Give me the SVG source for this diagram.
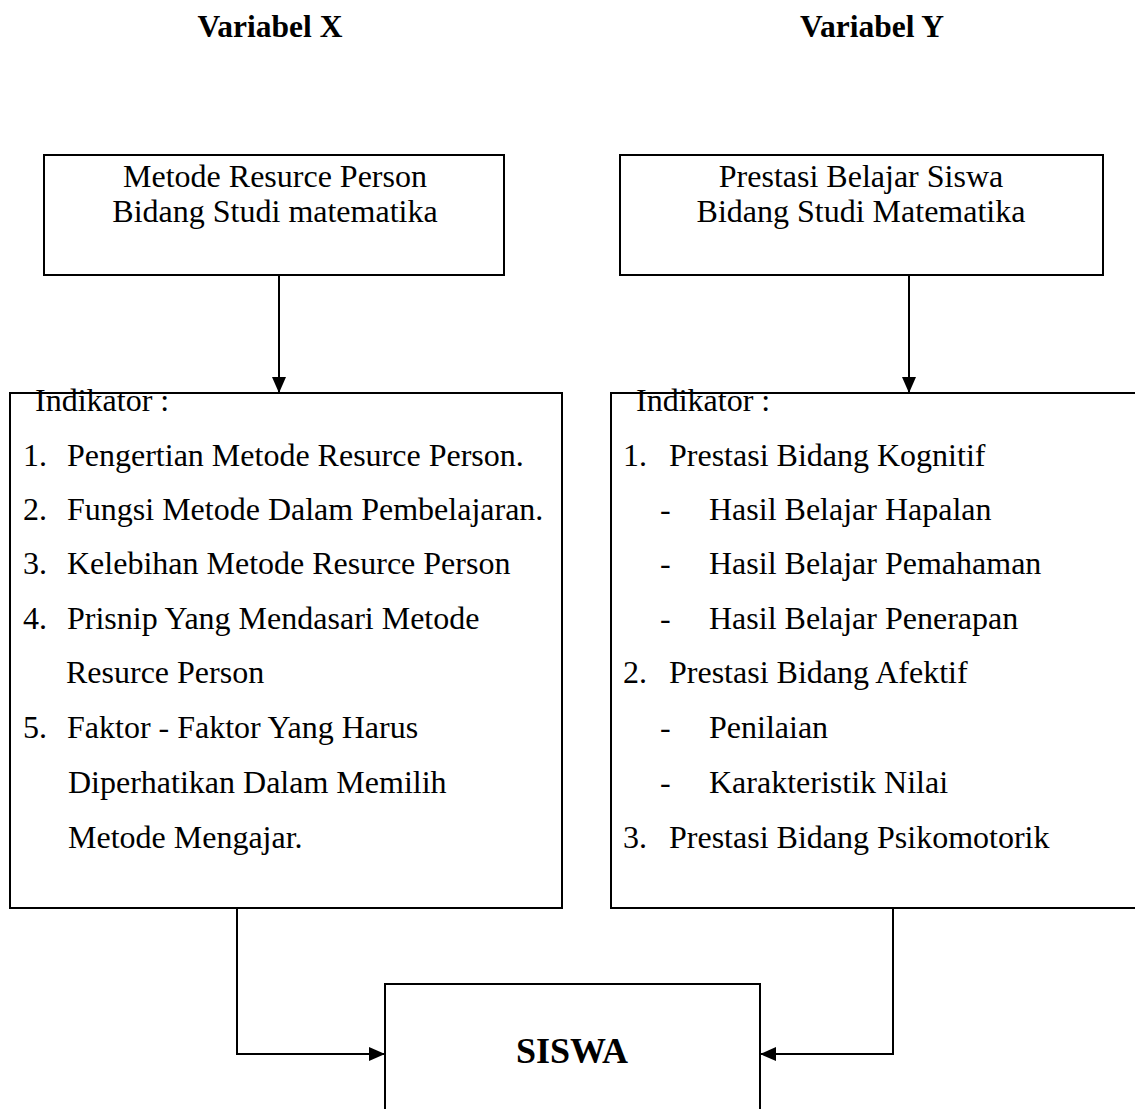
<svg xmlns="http://www.w3.org/2000/svg" width="1135" height="1109" viewBox="0 0 1135 1109">
<style>
  .box { fill: none; stroke: #000; stroke-width: 2; }
  .line { fill: none; stroke: #000; stroke-width: 2; }
  text { font-family: "Liberation Serif", "Times New Roman", serif; fill: #000; }
  .t { font-size: 32px; }
  .title { font-size: 31.5px; font-weight: bold; text-anchor: middle; }
  .big { font-size: 36px; font-weight: bold; text-anchor: middle; }
  .c { text-anchor: middle; }
</style>
<defs>
  <marker id="arr" viewBox="0 0 16 14" refX="16" refY="7" markerWidth="16" markerHeight="14" markerUnits="userSpaceOnUse" orient="auto">
    <path d="M0,0 L16,7 L0,14 Z" fill="#000"/>
  </marker>
</defs>
<rect width="1135" height="1109" fill="#fff"/>
<g id="title-x"><text class="title" x="270" y="37">Variabel X</text></g>
<g id="title-y"><text class="title" x="872" y="37">Variabel Y</text></g>

<g id="box-x">
  <rect class="box" x="44" y="155" width="460" height="120"/>
  <text class="t c" x="275" y="187">Metode Resurce Person</text>
  <text class="t c" x="275" y="222">Bidang Studi matematika</text>
</g>
<g id="box-y">
  <rect class="box" x="620" y="155" width="483" height="120"/>
  <text class="t c" x="861" y="187">Prestasi Belajar Siswa</text>
  <text class="t c" x="861" y="222">Bidang Studi Matematika</text>
</g>

<g id="indikator-x">
  <rect class="box" x="10" y="393" width="552" height="515"/>
  <text class="t" x="35" y="411">Indikator :</text>
  <text class="t" x="23" y="466">1.</text><text class="t" x="67" y="466">Pengertian Metode Resurce Person.</text>
  <text class="t" x="23" y="520">2.</text><text class="t" x="67" y="520">Fungsi Metode Dalam Pembelajaran.</text>
  <text class="t" x="23" y="574">3.</text><text class="t" x="67" y="574">Kelebihan Metode Resurce Person</text>
  <text class="t" x="23" y="629">4.</text><text class="t" x="67" y="629">Prisnip Yang Mendasari Metode</text>
  <text class="t" x="66" y="683">Resurce Person</text>
  <text class="t" x="23" y="738">5.</text><text class="t" x="67" y="738">Faktor - Faktor Yang Harus</text>
  <text class="t" x="68" y="793">Diperhatikan Dalam Memilih</text>
  <text class="t" x="68" y="848">Metode Mengajar.</text>
</g>

<g id="indikator-y">
  <path class="box" d="M1135,393 H611 V908 H1135"/>
  <text class="t" x="636" y="411">Indikator :</text>
  <text class="t" x="623" y="466">1.</text><text class="t" x="669" y="466">Prestasi Bidang Kognitif</text>
  <text class="t" x="660" y="520">-</text><text class="t" x="709" y="520">Hasil Belajar Hapalan</text>
  <text class="t" x="660" y="574">-</text><text class="t" x="709" y="574">Hasil Belajar Pemahaman</text>
  <text class="t" x="660" y="629">-</text><text class="t" x="709" y="629">Hasil Belajar Penerapan</text>
  <text class="t" x="623" y="683">2.</text><text class="t" x="669" y="683">Prestasi Bidang Afektif</text>
  <text class="t" x="660" y="738">-</text><text class="t" x="709" y="738">Penilaian</text>
  <text class="t" x="660" y="793">-</text><text class="t" x="709" y="793">Karakteristik Nilai</text>
  <text class="t" x="623" y="848">3.</text><text class="t" x="669" y="848">Prestasi Bidang Psikomotorik</text>
</g>

<g id="siswa">
  <path class="box" d="M385,1109 V984 H760 V1109"/>
  <text class="big" x="572" y="1063">SISWA</text>
</g>

<g id="connectors">
  <line class="line" x1="279" y1="275" x2="279" y2="393" marker-end="url(#arr)"/>
  <line class="line" x1="909" y1="275" x2="909" y2="393" marker-end="url(#arr)"/>
  <polyline class="line" points="237,908 237,1054 385,1054" marker-end="url(#arr)"/>
  <polyline class="line" points="893,908 893,1054 760,1054" marker-end="url(#arr)"/>
</g>
</svg>
